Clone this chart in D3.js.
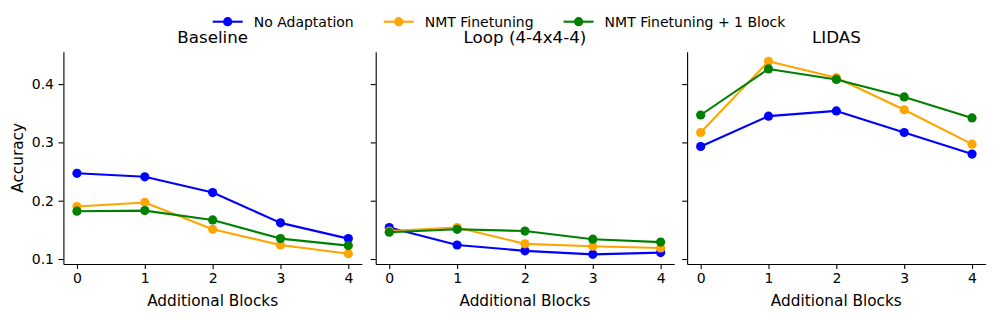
<!DOCTYPE html>
<html>
<head>
<meta charset="utf-8">
<script src="https://cdn.jsdelivr.net/npm/d3@7"></script>
<style>
  body { margin: 0; background: #fff; }
  svg { font-family: "DejaVu Sans", sans-serif; }
</style>
</head>
<body>
<div id="chart"></div>
<script>
// values
const blocks = [0, 1, 2, 3, 4];
const panelTitles = ["Baseline", "Loop (4-4x4-4)", "LIDAS"];
const seriesNames = ["No Adaptation", "NMT Finetuning", "NMT Finetuning + 1 Block"];
const seriesColors = ["#0000ff", "#ffa500", "#008000"];

const baselineNoAdapt = [0.247, 0.241, 0.214, 0.162, 0.135];
const baselineNmt     = [0.190, 0.197, 0.151, 0.124, 0.109];
const baselineNmt1    = [0.182, 0.183, 0.167, 0.135, 0.123];

const loopNoAdapt = [0.154, 0.124, 0.114, 0.108, 0.111];
const loopNmt     = [0.148, 0.154, 0.126, 0.122, 0.119];
const loopNmt1    = [0.146, 0.151, 0.148, 0.134, 0.129];

const lidasNoAdapt = [0.293, 0.345, 0.354, 0.317, 0.280];
const lidasNmt     = [0.317, 0.439, 0.411, 0.356, 0.297];
const lidasNmt1    = [0.347, 0.426, 0.408, 0.378, 0.342];

const yTicks = [0.1, 0.2, 0.3, 0.4];

const panels = [
  [baselineNoAdapt, baselineNmt, baselineNmt1],
  [loopNoAdapt, loopNmt, loopNmt1],
  [lidasNoAdapt, lidasNmt, lidasNmt1]
];

const w = 996;
const h = 319;
const plotTop = 51.7, plotBottom = 264;
const panelLeft = [63.4, 375.7, 687.1];
const panelW = 298.5;

// shared y range with matplotlib-like 5% margin
const allVals = panels.flat(2);
const yMin = d3.min(allVals), yMax = d3.max(allVals);
const yPad = (yMax - yMin) * 0.05;

const yScale = d3.scaleLinear()
  .domain([yMin - yPad, yMax + yPad])
  .range([plotBottom, plotTop]);

const svg = d3.select("#chart")
  .append("svg")
  .attr("width", w)
  .attr("height", h);

panels.forEach((series, p) => {
  const x0 = panelLeft[p];
  const xScale = d3.scaleLinear()
    .domain([-0.2, 4.2])
    .range([x0, x0 + panelW]);

  const g = svg.append("g");

  // axes
  const xAxis = d3.axisBottom(xScale)
    .tickValues(blocks)
    .tickFormat(d3.format("d"))
    .tickSize(4.9)
    .tickPadding(4.5)
    .tickSizeOuter(0);
  const yAxis = d3.axisLeft(yScale)
    .tickValues(yTicks)
    .tickFormat(p === 0 ? d3.format(".1f") : () => "")
    .tickSize(4.9)
    .tickPadding(4.5)
    .tickSizeOuter(0);

  const gx = g.append("g")
    .attr("transform", "translate(0," + plotBottom + ")")
    .call(xAxis);
  const gy = g.append("g")
    .attr("transform", "translate(" + x0 + ",0)")
    .call(yAxis);

  [gx, gy].forEach(a => {
    a.selectAll("text").attr("font-size", 14).attr("fill", "#000").attr("font-family", "DejaVu Sans");
    a.selectAll("line").attr("stroke", "#000").attr("stroke-width", 1.1);
    a.select(".domain").attr("stroke", "#000").attr("stroke-width", 1.1);
  });

  // lines + markers
  const line = d3.line()
    .x((d, i) => xScale(blocks[i]))
    .y(d => yScale(d));

  series.forEach((vals, s) => {
    g.append("path")
      .datum(vals)
      .attr("fill", "none")
      .attr("stroke", seriesColors[s])
      .attr("stroke-width", 2.1)
      .attr("stroke-linejoin", "round")
      .attr("d", line);
    g.selectAll(null)
      .data(vals)
      .enter()
      .append("circle")
      .attr("cx", (d, i) => xScale(blocks[i]))
      .attr("cy", d => yScale(d))
      .attr("r", 4.6)
      .attr("fill", seriesColors[s]);
  });

  // title
  g.append("text")
    .attr("x", x0 + panelW / 2)
    .attr("y", 43.4)
    .attr("text-anchor", "middle")
    .attr("font-size", 16.7)
    .text(panelTitles[p]);

  // x label
  g.append("text")
    .attr("x", x0 + panelW / 2)
    .attr("y", 305.5)
    .attr("text-anchor", "middle")
    .attr("font-size", 15.3)
    .text("Additional Blocks");
});

// y label
svg.append("text")
  .attr("transform", "translate(22.5," + ((plotTop + plotBottom) / 2) + ") rotate(-90)")
  .attr("text-anchor", "middle")
  .attr("font-size", 15.3)
  .text("Accuracy");

// legend, laid out like matplotlib then centred on the figure
const legend = svg.append("g");
let cursor = 0;
seriesNames.forEach((name, i) => {
  const item = legend.append("g").attr("transform", "translate(" + cursor + ",0)");
  item.append("line")
    .attr("x1", 0).attr("x2", 30)
    .attr("y1", 21.7).attr("y2", 21.7)
    .attr("stroke", seriesColors[i])
    .attr("stroke-width", 2.1);
  item.append("circle")
    .attr("cx", 15).attr("cy", 21.7).attr("r", 4.6)
    .attr("fill", seriesColors[i]);
  const t = item.append("text")
    .attr("x", 41)
    .attr("y", 27)
    .attr("font-size", 14)
    .text(name);
  cursor += 41 + t.node().getComputedTextLength() + 30;
});
const legendW = cursor - 30;
legend.attr("transform", "translate(" + (499 - legendW / 2) + ",0)");
</script>
</body>
</html>
